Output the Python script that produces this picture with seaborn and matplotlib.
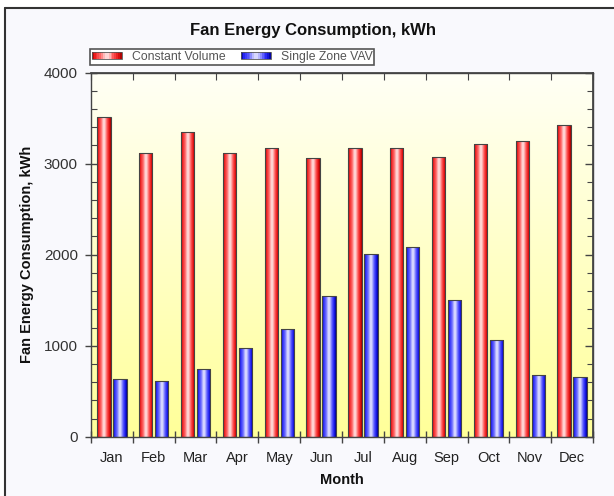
import numpy as np
import pandas as pd
import matplotlib
matplotlib.use('Agg')
import matplotlib.pyplot as plt
import seaborn as sns
from matplotlib.colors import LinearSegmentedColormap
from matplotlib.patches import Rectangle
from matplotlib.lines import Line2D
from matplotlib.legend_handler import HandlerBase
from matplotlib.ticker import MultipleLocator, FixedLocator

# data
months = ['Jan', 'Feb', 'Mar', 'Apr', 'May', 'Jun',
          'Jul', 'Aug', 'Sep', 'Oct', 'Nov', 'Dec']
constant_volume = [3510, 3115, 3345, 3120, 3170, 3060,
                   3170, 3170, 3070, 3215, 3245, 3430]
single_zone_vav = [635, 612, 745, 980, 1180, 1545,
                   2010, 2090, 1500, 1065, 680, 660]
series_names = ['Constant Volume', 'Single Zone VAV']

df = pd.DataFrame({
    'Month': months * 2,
    'kWh': constant_volume + single_zone_vav,
    'System': [series_names[0]] * 12 + [series_names[1]] * 12,
})

# cylinder-like shading for bars
red_cmap = LinearSegmentedColormap.from_list('red_cyl', [
    (0.0, '#B00000'), (0.1, '#F02020'), (0.3, '#FF6A6A'), (0.45, '#FFD6D6'),
    (0.55, '#FFD6D6'), (0.72, '#FF5A5A'), (0.88, '#E81414'), (1.0, '#A00000')])
blue_cmap = LinearSegmentedColormap.from_list('blue_cyl', [
    (0.0, '#0000A0'), (0.1, '#2828F8'), (0.3, '#7070FF'), (0.45, '#D8D8FF'),
    (0.55, '#D8D8FF'), (0.72, '#6060FF'), (0.88, '#1C1CF0'), (1.0, '#000090')])
bg_cmap = LinearSegmentedColormap.from_list('bg', ['#FFFF99', '#FFFFF6'])


class GradientHandler(HandlerBase):
    """Legend key drawn with the same gradient as the bars"""

    def __init__(self, cmap):
        super().__init__()
        self.cmap = cmap

    def create_artists(self, legend, orig_handle, xdescent, ydescent,
                       width, height, fontsize, trans):
        n = 16
        arts = []
        for i in range(n):
            arts.append(Rectangle((-xdescent + i * width / n, -ydescent),
                                  width / n, height, facecolor=self.cmap((i + 0.5) / n),
                                  edgecolor='none', transform=trans))
        arts.append(Rectangle((-xdescent, -ydescent), width, height,
                              facecolor='none', edgecolor='#555555', lw=0.6,
                              transform=trans))
        return arts


sns.set_theme(style='white')
plt.rcParams['font.family'] = ['Liberation Sans', 'DejaVu Sans']

fig = plt.figure(figsize=(6.14, 4.96), dpi=100)
fig.patch.set_facecolor('white')
fig.add_artist(Rectangle((5 / 614, 0), 1, 1 - 8 / 496, transform=fig.transFigure,
                         facecolor='#F9F9FD', edgecolor='none', zorder=-10))
fig.add_artist(Line2D([5 / 614, 5 / 614], [0, 1 - 8 / 496], transform=fig.transFigure,
                      color='#333333', lw=1.5))
fig.add_artist(Line2D([5 / 614, 1], [1 - 8 / 496, 1 - 8 / 496], transform=fig.transFigure,
                      color='#333333', lw=1.5))

ax = fig.add_axes([91 / 614, 1 - 436.7 / 496, 502 / 614, 364 / 496])
sns.barplot(data=df, x='Month', y='kWh', hue='System', palette=['#F02020', '#2828F8'],
            width=0.76, gap=0.16, errorbar=None, legend=False, ax=ax,
            edgecolor='#444444', linewidth=0.8)

# yellow background gradient
ax.imshow(np.linspace(0, 1, 256).reshape(-1, 1), cmap=bg_cmap, origin='lower',
          extent=[-0.5, 11.5, 0, 4000], aspect='auto', zorder=0)

for cont, cmap in zip(ax.containers, [red_cmap, blue_cmap]):
    for bar in cont:
        x, w, h = bar.get_x(), bar.get_width(), bar.get_height()
        im = ax.imshow(np.linspace(0, 1, 64).reshape(1, -1), cmap=cmap,
                       extent=[x, x + w, 0, h], aspect='auto', zorder=1.5)
        im.set_clip_path(bar)
        bar.set_facecolor('none')
        bar.set_zorder(2)

ax.set_xlim(-0.5, 11.5)
ax.set_ylim(0, 4000)

for side in ['left', 'right', 'top', 'bottom']:
    ax.spines[side].set_color('#444444')
    ax.spines[side].set_linewidth(1.0)

# ticks: left/bottom cross the axis, right/top point inwards
ax.yaxis.set_major_locator(MultipleLocator(1000))
ax.yaxis.set_minor_locator(MultipleLocator(200))
ax.tick_params(axis='y', which='major', direction='inout', length=9, width=1,
               color='#444444', left=True, labelsize=11, labelcolor='#333333', pad=5)
ax.tick_params(axis='y', which='minor', direction='in', length=4, width=0.8,
               color='#444444', left=True)
ax.xaxis.set_minor_locator(FixedLocator(np.arange(-0.5, 12, 1)))
ax.tick_params(axis='x', which='major', length=0, labelsize=10.5,
               labelcolor='#222222', pad=10)
ax.tick_params(axis='x', which='minor', direction='inout', length=8, width=1,
               color='#444444', bottom=True)

sec_y = ax.secondary_yaxis('right')
sec_y.yaxis.set_major_locator(MultipleLocator(1000))
sec_y.yaxis.set_minor_locator(MultipleLocator(200))
sec_y.tick_params(which='major', direction='in', length=6, width=1, color='#444444',
                  labelright=False)
sec_y.tick_params(which='minor', direction='in', length=4, width=0.8, color='#444444')
sec_y.spines['right'].set_color('#444444')

sec_x = ax.secondary_xaxis('top')
sec_x.set_xticks(np.arange(-0.5, 12, 1))
sec_x.tick_params(direction='in', length=5, width=0.8, color='#444444', labeltop=False)
sec_x.spines['top'].set_color('#444444')

ax.set_xlabel('Month', fontsize=10.5, fontweight='bold', color='#111111')
ax.xaxis.set_label_coords(0.5, -0.10)
ax.set_ylabel('Fan Energy Consumption, kWh', fontsize=10.5, fontweight='bold',
              color='#111111')
ax.yaxis.set_label_coords(-0.114, 0.5)

fig.text(313 / 614, 1 - 30 / 496, 'Fan Energy Consumption, kWh', ha='center',
         va='center', fontsize=12, fontweight='bold', color='#111111')

handles = [Rectangle((0, 0), 1, 1), Rectangle((0, 0), 1, 1, label='b')]
leg = fig.legend(handles, series_names, loc='lower left',
                 bbox_to_anchor=(90 / 614, 1 - 65 / 496), borderaxespad=0,
                 ncol=2, fontsize=8.8, frameon=True, fancybox=False,
                 edgecolor='#555555', facecolor='white', framealpha=1,
                 handlelength=2.45, handleheight=0.5, handletextpad=0.8,
                 columnspacing=1.3, borderpad=0.15,
                 handler_map={handles[0]: GradientHandler(red_cmap),
                              handles[1]: GradientHandler(blue_cmap)})
leg.get_frame().set_linewidth(1.2)
for t in leg.get_texts():
    t.set_color('#555555')

fig.savefig('out.png', dpi=100)
